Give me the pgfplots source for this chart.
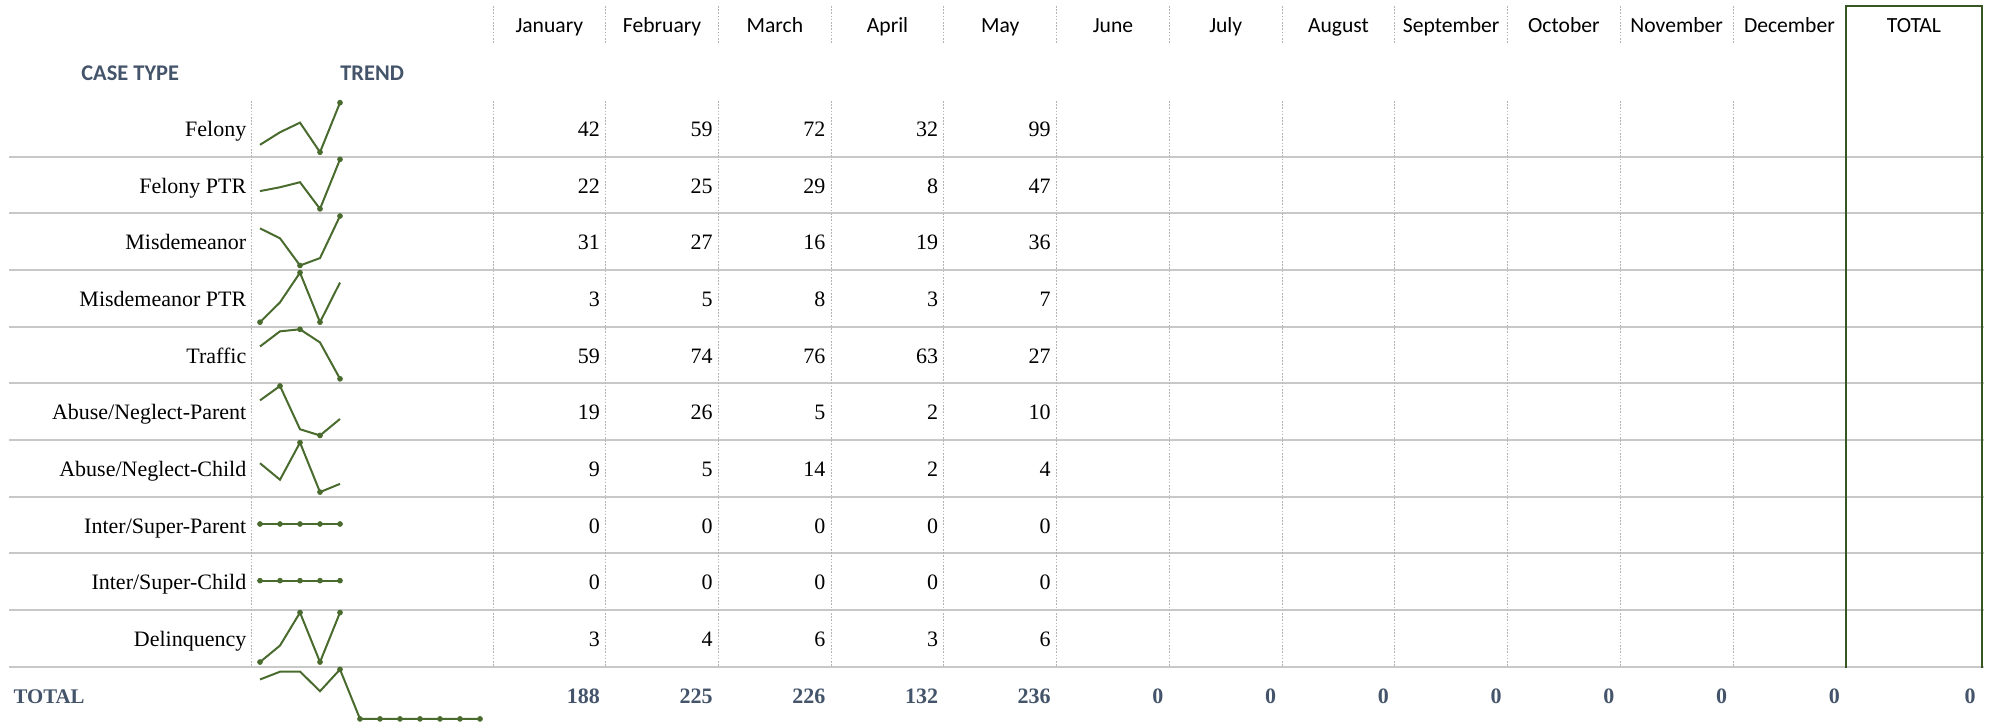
\documentclass[border=0pt]{standalone}
\usepackage{pgfplots}
\pgfplotsset{compat=1.18}
\usepackage{fontspec}
\setmainfont{Liberation Serif}
\newfontfamily\sans{Carlito}
\definecolor{slate}{HTML}{44546A}
\definecolor{spark}{HTML}{4A6B2E}
\definecolor{boxgreen}{HTML}{375623}
\definecolor{gridgray}{HTML}{C8C8C8}
\definecolor{dotgray}{HTML}{B4B4B4}

\pgfplotsset{
  spark/.style={hide axis, scale only axis, width=40pt, height=24.75pt,
    xmin=1, xmax=5, anchor=north west, clip=false, enlargelimits=false},
  sline/.style={color=spark, line width=1pt, mark=none},
  smark/.style={color=spark, only marks, mark=*, mark size=1.2pt},
}
\newcommand{\fs}{\fontsize{11pt}{12pt}\selectfont}
\newcommand{\fh}{\fontsize{10.8pt}{12pt}\selectfont}
\tikzset{dotline/.style={dotgray, line width=0.5pt, dash pattern=on 0.8pt off 0.8pt}}

\begin{document}
\begin{tikzpicture}
\begin{scope}[x=0.5pt,y=-0.5pt]
\useasboundingbox (0,0) rectangle (1992,724);
% horizontal row lines
\foreach \k in {0,...,9} {
  \pgfmathsetmacro\yy{156.65+56.65*\k}
  \draw[gridgray, line width=1pt] (9,\yy) -- (1984,\yy);
}
% dotted vertical lines (data area)
\draw[dotline] (251,101) -- (251,666);
\foreach \k in {0,...,11} {
  \pgfmathsetmacro\xx{493+112.73*\k}
  \draw[dotline] (\xx,101) -- (\xx,666);
  \draw[dotline] (\xx,6) -- (\xx,43);
}
% green TOTAL box
\draw[boxgreen, line width=1pt] (1846,667.5) -- (1846,5.5) -- (1982,5.5) -- (1982,667.5);
% header
\foreach \m [count=\i from 0] in {January,February,March,April,May,June,July,August,September,October,November,December} {
  \pgfmathsetmacro\xx{549.35+112.73*\i}
  \node[font=\sans\fh, anchor=base, inner sep=0] at (\xx,32.5) {\m};
}
\node[font=\sans\fh, anchor=base, inner sep=0] at (1914,32.5) {TOTAL};
\node[font=\sans\bfseries\fontsize{11.2pt}{13pt}\selectfont, text=slate, anchor=base west, inner sep=0] at (81,80.7) {CASE TYPE};
\node[font=\sans\bfseries\fontsize{11.2pt}{13pt}\selectfont, text=slate, anchor=base west, inner sep=0] at (340,80.7) {TREND};
% row labels and values
\foreach \lab/\a/\b/\c/\d/\e [count=\r from 0] in {
  Felony/42/59/72/32/99,
  Felony PTR/22/25/29/8/47,
  Misdemeanor/31/27/16/19/36,
  Misdemeanor PTR/3/5/8/3/7,
  Traffic/59/74/76/63/27,
  Abuse\slash Neglect-Parent/19/26/5/2/10,
  Abuse\slash Neglect-Child/9/5/14/2/4,
  Inter\slash Super-Parent/0/0/0/0/0,
  Inter\slash Super-Child/0/0/0/0/0,
  Delinquency/3/4/6/3/6} {
  \pgfmathsetmacro\yy{136.65+56.65*\r}
  \node[font=\fs, anchor=base east, inner sep=0] at (246.7,\yy) {\lab};
  \foreach \v [count=\j from 0] in {\a,\b,\c,\d,\e} {
    \pgfmathsetmacro\xx{600.2+112.73*\j}
    \node[font=\fs, anchor=base east, inner sep=0] at (\xx,\yy) {\v};
  }
}
% total row
\node[font=\bfseries\fontsize{10.4pt}{12pt}\selectfont, text=slate, anchor=base west, inner sep=0] at (13.3,703.2) {TOTAL};
\foreach \v [count=\j from 0] in {188,225,226,132,236,0,0,0,0,0,0,0} {
  \pgfmathsetmacro\xx{600.2+112.73*\j}
  \node[font=\bfseries\fs, text=slate, anchor=base east, inner sep=0] at (\xx,703.2) {\v};
}
\node[font=\bfseries\fs, text=slate, anchor=base east, inner sep=0] at (1976,703.2) {0};
% sparkline anchors
\foreach \r in {0,...,9} {
  \pgfmathsetmacro\yy{102.7+56.65*\r}
  \coordinate (sp\r) at (260,\yy);
}
\coordinate (spT) at (260,669.4);
\end{scope}

% sparklines
\begin{axis}[spark, at={(sp0)}]
\addplot[sline] coordinates {(1,42)(2,59)(3,72)(4,32)(5,99)};
\addplot[smark] coordinates {(4,32)(5,99)};
\end{axis}
\begin{axis}[spark, at={(sp1)}]
\addplot[sline] coordinates {(1,22)(2,25)(3,29)(4,8)(5,47)};
\addplot[smark] coordinates {(4,8)(5,47)};
\end{axis}
\begin{axis}[spark, at={(sp2)}]
\addplot[sline] coordinates {(1,31)(2,27)(3,16)(4,19)(5,36)};
\addplot[smark] coordinates {(3,16)(5,36)};
\end{axis}
\begin{axis}[spark, at={(sp3)}]
\addplot[sline] coordinates {(1,3)(2,5)(3,8)(4,3)(5,7)};
\addplot[smark] coordinates {(1,3)(3,8)(4,3)};
\end{axis}
\begin{axis}[spark, at={(sp4)}]
\addplot[sline] coordinates {(1,59)(2,74)(3,76)(4,63)(5,27)};
\addplot[smark] coordinates {(3,76)(5,27)};
\end{axis}
\begin{axis}[spark, at={(sp5)}]
\addplot[sline] coordinates {(1,19)(2,26)(3,5)(4,2)(5,10)};
\addplot[smark] coordinates {(2,26)(4,2)};
\end{axis}
\begin{axis}[spark, at={(sp6)}]
\addplot[sline] coordinates {(1,9)(2,5)(3,14)(4,2)(5,4)};
\addplot[smark] coordinates {(3,14)(4,2)};
\end{axis}
\begin{axis}[spark, at={(sp7)}, ymin=-1, ymax=1]
\addplot[sline] coordinates {(1,0)(2,0)(3,0)(4,0)(5,0)};
\addplot[smark] coordinates {(1,0)(2,0)(3,0)(4,0)(5,0)};
\end{axis}
\begin{axis}[spark, at={(sp8)}, ymin=-1, ymax=1]
\addplot[sline] coordinates {(1,0)(2,0)(3,0)(4,0)(5,0)};
\addplot[smark] coordinates {(1,0)(2,0)(3,0)(4,0)(5,0)};
\end{axis}
\begin{axis}[spark, at={(sp9)}]
\addplot[sline] coordinates {(1,3)(2,4)(3,6)(4,3)(5,6)};
\addplot[smark] coordinates {(1,3)(3,6)(4,3)(5,6)};
\end{axis}
\begin{axis}[spark, at={(spT)}, xmax=12, width=110pt]
\addplot[sline] coordinates {(1,188)(2,225)(3,226)(4,132)(5,236)(6,0)(7,0)(8,0)(9,0)(10,0)(11,0)(12,0)};
\addplot[smark] coordinates {(5,236)(6,0)(7,0)(8,0)(9,0)(10,0)(11,0)(12,0)};
\end{axis}
\end{tikzpicture}
\end{document}
